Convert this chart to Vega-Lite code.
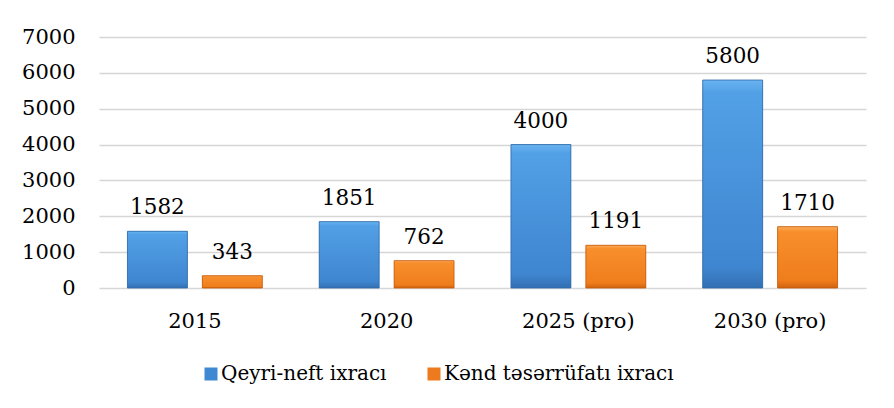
{
  "$schema": "https://vega.github.io/schema/vega-lite/v6.json",
  "width": 767,
  "height": 251,
  "autosize": {"type": "none"},
  "padding": {"left": 99, "top": 37, "right": 28, "bottom": 120},
  "background": "white",
  "config": {"view": {"stroke": null}, "font": "DejaVu Serif"},
  "data": {
    "values": [
      {"year": "2015", "series": "Qeyri-neft ixracı", "value": 1582},
      {"year": "2015", "series": "Kənd təsərrüfatı ixracı", "value": 343},
      {"year": "2020", "series": "Qeyri-neft ixracı", "value": 1851},
      {"year": "2020", "series": "Kənd təsərrüfatı ixracı", "value": 762},
      {"year": "2025 (pro)", "series": "Qeyri-neft ixracı", "value": 4000},
      {"year": "2025 (pro)", "series": "Kənd təsərrüfatı ixracı", "value": 1191},
      {"year": "2030 (pro)", "series": "Qeyri-neft ixracı", "value": 5800},
      {"year": "2030 (pro)", "series": "Kənd təsərrüfatı ixracı", "value": 1710}
    ]
  },
  "encoding": {
    "x": {
      "field": "year", "type": "nominal", "sort": null, "title": null,
      "scale": {"paddingInner": 0, "paddingOuter": 0},
      "axis": {"domain": false, "ticks": false, "labelAngle": 0, "labelFontSize": 21, "labelColor": "#000000", "labelPadding": 22, "labelFont": "DejaVu Serif"}
    },
    "xOffset": {"field": "series", "sort": ["Qeyri-neft ixracı", "Kənd təsərrüfatı ixracı"], "scale": {"paddingInner": 0.2, "paddingOuter": 0.38}},
    "y": {
      "field": "value", "type": "quantitative", "title": null,
      "scale": {"domain": [0, 7000], "nice": false},
      "axis": {"domain": false, "ticks": false, "format": "d", "values": [0, 1000, 2000, 3000, 4000, 5000, 6000, 7000], "labelFontSize": 21, "labelColor": "#000000", "labelPadding": 24, "labelFont": "DejaVu Serif", "gridColor": "#d6d6d6", "gridWidth": 1.3}
    }
  },
  "layer": [
    {
      "mark": {"type": "bar"},
      "encoding": {
        "color": {
          "field": "series", "type": "nominal", "title": null,
          "scale": {"domain": ["Qeyri-neft ixracı", "Kənd təsərrüfatı ixracı"], "range": ["#3f88d2", "#ee7a1e"]},
          "legend": {
            "orient": "none", "legendX": 102, "legendY": 327, "direction": "horizontal",
            "symbolType": "square", "symbolSize": 169, "symbolStrokeWidth": 0,
            "labelFontSize": 20, "labelFont": "DejaVu Serif", "labelColor": "#000000",
            "labelOffset": 0, "columnPadding": 37, "labelLimit": 400
          }
        }
      }
    },
    {
      "transform": [{"filter": "datum.series === 'Qeyri-neft ixracı'"}],
      "mark": {"type": "bar", "stroke": "#2f6aa8", "strokeWidth": 0.8, "fill": {"gradient": "linear", "x1": 0, "y1": 0, "x2": 0, "y2": 1, "stops": [{"offset": 0, "color": "#6ab3f1"}, {"offset": 0.06, "color": "#52a0e6"}, {"offset": 0.9, "color": "#3f86d0"}, {"offset": 1, "color": "#336fb3"}]}},
      "encoding": {}
    },
    {
      "transform": [{"filter": "datum.series === 'Kənd təsərrüfatı ixracı'"}],
      "mark": {"type": "bar", "stroke": "#c45a0c", "strokeWidth": 0.8, "fill": {"gradient": "linear", "x1": 0, "y1": 0, "x2": 0, "y2": 1, "stops": [{"offset": 0, "color": "#fcac5a"}, {"offset": 0.08, "color": "#f78f2c"}, {"offset": 0.88, "color": "#f07d1c"}, {"offset": 1, "color": "#d0620e"}]}},
      "encoding": {}
    },
    {
      "mark": {"type": "text", "baseline": "alphabetic", "dy": -17, "fontSize": 21.5, "font": "DejaVu Serif", "color": "#000000"},
      "encoding": {"text": {"field": "value", "type": "quantitative", "format": "d"}}
    }
  ]
}
